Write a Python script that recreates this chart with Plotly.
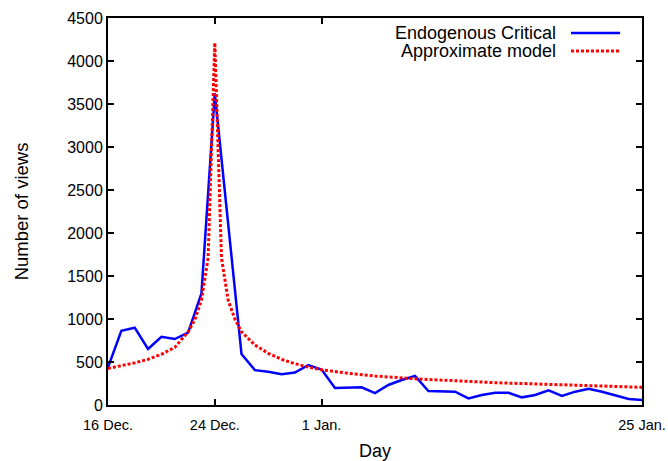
import plotly.graph_objects as go

# Day index (0 = 16 Dec.)
days = list(range(0, 41))
views = [438, 864, 899, 651, 794, 767, 841, 1299, 3624, 2110,
         593, 405, 387, 358, 378, 463, 412, 198, 203, 206,
         138, 233, 290, 337, 163, 155, 155, 77, 116, 143,
         143, 89, 116, 171, 105, 155, 190, 155, 109, 70, 58]

model_days = [0, 1, 2, 3, 4, 5, 6, 6.5, 7, 7.5, 8, 8.5, 9, 9.5, 10, 11, 12, 13,
              14, 15, 16, 18, 20, 23, 26, 29, 32, 36, 40]
model_views = [425, 455, 490, 531, 590, 670, 850, 990, 1220, 1710, 4213, 1710,
               1220, 1000, 852, 698, 601, 531, 480, 440, 410, 368, 337, 305,
               280, 259, 245, 228, 206]

tick_vals = [0, 8, 16, 40]
tick_text = ["16 Dec.", "24 Dec.", "1 Jan.", "25 Jan."]
legend_names = ["Endogenous Critical", "Approximate model"]

FONT = "Liberation Sans, Arial, Helvetica, sans-serif"

fig = go.Figure()
fig.add_trace(go.Scatter(x=days, y=views, mode="lines",
                         line=dict(color="#0000ff", width=2.5),
                         name=legend_names[0], showlegend=False))
fig.add_trace(go.Scatter(x=model_days, y=model_views, mode="lines",
                         line=dict(color="#ff0000", width=3, dash="3px,2px"),
                         name=legend_names[1], showlegend=False))

fig.update_layout(
    width=668, height=461,
    margin=dict(l=108, r=26, t=18, b=56),
    paper_bgcolor="white", plot_bgcolor="white",
    font=dict(family=FONT, color="black", size=16),
)
fig.update_xaxes(range=[0, 40], tickvals=tick_vals, ticktext=tick_text,
                 ticks="inside", ticklen=6, tickwidth=1.5, tickcolor="black",
                 showline=True, linecolor="black", linewidth=2, mirror="ticks",
                 showgrid=False, zeroline=False, automargin=False,
                 tickfont=dict(size=14.5), ticklabelstandoff=6,
                 title=dict(text="Day", font=dict(size=18), standoff=24))
fig.update_yaxes(range=[0, 4500], dtick=500,
                 ticks="inside", ticklen=6, tickwidth=1.5, tickcolor="black",
                 showline=True, linecolor="black", linewidth=2, mirror="ticks",
                 showgrid=False, zeroline=False, automargin=False,
                 tickfont=dict(size=16),
                 title=dict(text="Number of views", font=dict(size=18.5), standoff=34))

# gnuplot-style key: text right-aligned, sample line to the right
key_y = [0.961, 0.915]
key_styles = [dict(color="#0000ff", width=2.5), dict(color="#ff0000", width=3, dash="3px,2px")]
for name, yy, st in zip(legend_names, key_y, key_styles):
    fig.add_annotation(x=0.842, y=yy, xref="paper", yref="paper", text=name,
                       showarrow=False, xanchor="right", yanchor="middle",
                       font=dict(size=18))
    fig.add_shape(type="line", xref="paper", yref="paper",
                  x0=0.867, x1=0.959, y0=yy, y1=yy, line=st)

fig.write_html("out.html")
